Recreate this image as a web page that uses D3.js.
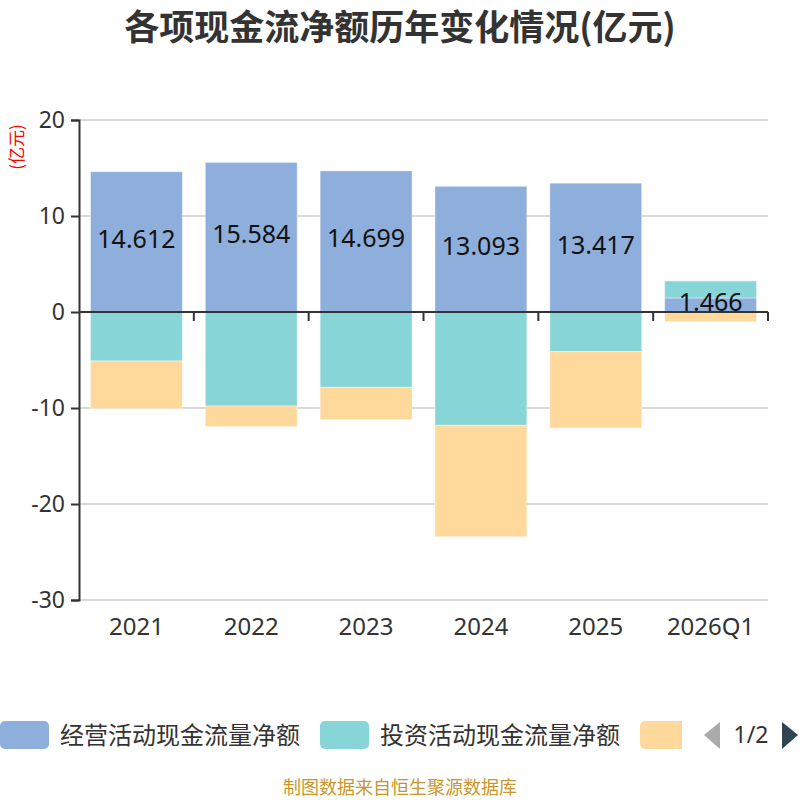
<!DOCTYPE html>
<html>
<head>
<meta charset="utf-8">
<script src="https://cdn.jsdelivr.net/npm/d3@7/dist/d3.min.js"></script>
<style>
  body { margin: 0; background: #fff; }
  svg { font-family: "Noto Sans CJK SC", "Noto Sans", sans-serif; }
</style>
</head>
<body>
<svg id="chart" width="800" height="800"></svg>
<script>
const years = ['2021', '2022', '2023', '2024', '2025', '2026Q1'];
const seriesNames = ['经营活动现金流量净额', '投资活动现金流量净额', '筹资活动现金流量净额'];
const operating = [14.612, 15.584, 14.699, 13.093, 13.417, 1.466];
const investing = [-5.10, -9.79, -7.85, -11.81, -4.13, 1.77];
const financing = [-4.97, -2.15, -3.36, -11.60, -7.95, -1.00];
const yTicks = [20, 10, 0, -10, -20, -30];
const colors = ['#8eaedb', '#88d5d8', '#fed99b'];

const svg = d3.select('#chart');
const margin = {left: 79, right: 32, top: 120, bottom: 200};
const width = 800;
const height = 800;
const numFont = '"Noto Sans", sans-serif';

const x = d3.scaleBand()
  .domain(years)
  .range([margin.left, width - margin.right])
  .paddingInner(0.2)
  .paddingOuter(0.1);

const y = d3.scaleLinear()
  .domain([-30, 20])
  .range([height - margin.bottom, margin.top]);

// title
svg.append('text')
  .attr('x', 400)
  .attr('y', 40)
  .attr('text-anchor', 'middle')
  .attr('font-size', 35)
  .attr('font-weight', 'bold')
  .attr('fill', '#333')
  .text('各项现金流净额历年变化情况(亿元)');

// y unit label
svg.append('text')
  .attr('transform', 'translate(23,147) rotate(-90)')
  .attr('text-anchor', 'middle')
  .attr('font-size', 17)
  .attr('fill', '#ff0000')
  .text('(亿元)');

// grid
svg.append('g')
  .selectAll('line')
  .data(yTicks)
  .join('line')
    .attr('x1', margin.left)
    .attr('x2', width - margin.right)
    .attr('y1', d => y(d))
    .attr('y2', d => y(d))
    .attr('stroke', '#ccc')
    .attr('stroke-width', 1.5);

// stack: positives upward, negatives downward
const series = [operating, investing, financing];
const rows = [];
years.forEach((yr, i) => {
  let pos = 0, neg = 0;
  series.forEach((s, k) => {
    const v = s[i];
    let y0, y1;
    if (v >= 0) { y0 = pos; y1 = pos + v; pos = y1; }
    else { y0 = neg; y1 = neg + v; neg = y1; }
    rows.push({year: yr, k, v, y0, y1});
  });
});

svg.append('g')
  .selectAll('rect')
  .data(rows)
  .join('rect')
    .attr('x', d => x(d.year))
    .attr('width', x.bandwidth())
    .attr('y', d => y(Math.max(d.y0, d.y1)))
    .attr('height', d => Math.abs(y(d.y0) - y(d.y1)))
    .attr('fill', d => colors[d.k])
    .attr('stroke', '#fff')
    .attr('stroke-opacity', 0.4)
    .attr('stroke-width', 1);

// labels on operating bars
svg.append('g')
  .selectAll('text')
  .data(rows.filter(d => d.k === 0))
  .join('text')
    .attr('x', d => x(d.year) + x.bandwidth() / 2)
    .attr('y', d => y((d.y0 + d.y1) / 2) - 3)
    .attr('dy', '0.36em')
    .attr('text-anchor', 'middle')
    .attr('font-size', 25)
    .attr('font-family', numFont)
    .attr('fill', '#111')
    .text(d => d.v.toFixed(3));

// y axis
const yAxis = svg.append('g')
  .attr('transform', `translate(${margin.left},0)`)
  .call(d3.axisLeft(y).tickValues(yTicks).tickFormat(d => String(d)).tickSize(8).tickPadding(6));
yAxis.select('.domain').attr('stroke', '#333').attr('stroke-width', 2);
yAxis.selectAll('.tick line').attr('stroke', '#333').attr('stroke-width', 2);
yAxis.selectAll('.tick text')
  .attr('font-size', 23)
  .attr('fill', '#333')
  .attr('font-family', numFont);

// x axis along zero
const xAxis = svg.append('g')
  .attr('transform', `translate(0,${y(0)})`);
xAxis.append('line')
  .attr('x1', margin.left)
  .attr('x2', width - margin.right)
  .attr('stroke', '#333')
  .attr('stroke-width', 2);
const step = x.step();
const bounds = years.map((d, i) => x(d) - x.paddingInner() * step / 2 + step);
xAxis.selectAll('.xt')
  .data(bounds)
  .join('line')
    .attr('x1', d => d)
    .attr('x2', d => d)
    .attr('y1', 0)
    .attr('y2', 9)
    .attr('stroke', '#333')
    .attr('stroke-width', 2);

svg.append('g')
  .selectAll('text')
  .data(years)
  .join('text')
    .attr('x', d => x(d) + x.bandwidth() / 2)
    .attr('y', 635)
    .attr('text-anchor', 'middle')
    .attr('font-size', 24)
    .attr('fill', '#333')
    .attr('font-family', numFont)
    .text(d => d);

// legend (paged: only the swatch of the third item is visible)
svg.append('clipPath').attr('id', 'legclip')
  .append('rect').attr('x', 0).attr('y', 700).attr('width', 682).attr('height', 60);
const leg = svg.append('g').attr('clip-path', 'url(#legclip)');
const legX = [0, 320, 640];
seriesNames.forEach((name, i) => {
  leg.append('rect')
    .attr('x', legX[i])
    .attr('y', 721)
    .attr('width', 49)
    .attr('height', 28)
    .attr('rx', 5)
    .attr('fill', colors[i]);
  if (i < 2) {
    leg.append('text')
      .attr('x', legX[i] + 60)
      .attr('y', 744)
      .attr('font-size', 24)
      .attr('fill', '#333')
      .text(name);
  }
});
// pager
svg.append('path')
  .attr('d', 'M720,722 L704,735 L720,749 Z')
  .attr('fill', '#aaa');
svg.append('text')
  .attr('x', 751)
  .attr('y', 743)
  .attr('text-anchor', 'middle')
  .attr('font-size', 23)
  .attr('fill', '#333')
  .attr('font-family', numFont)
  .text('1/2');
svg.append('path')
  .attr('d', 'M782,722 L798,735 L782,749 Z')
  .attr('fill', '#2f4554');

// footer
svg.append('text')
  .attr('x', 400)
  .attr('y', 794)
  .attr('text-anchor', 'middle')
  .attr('font-size', 18)
  .attr('fill', '#c9962b')
  .text('制图数据来自恒生聚源数据库');
</script>
</body>
</html>
